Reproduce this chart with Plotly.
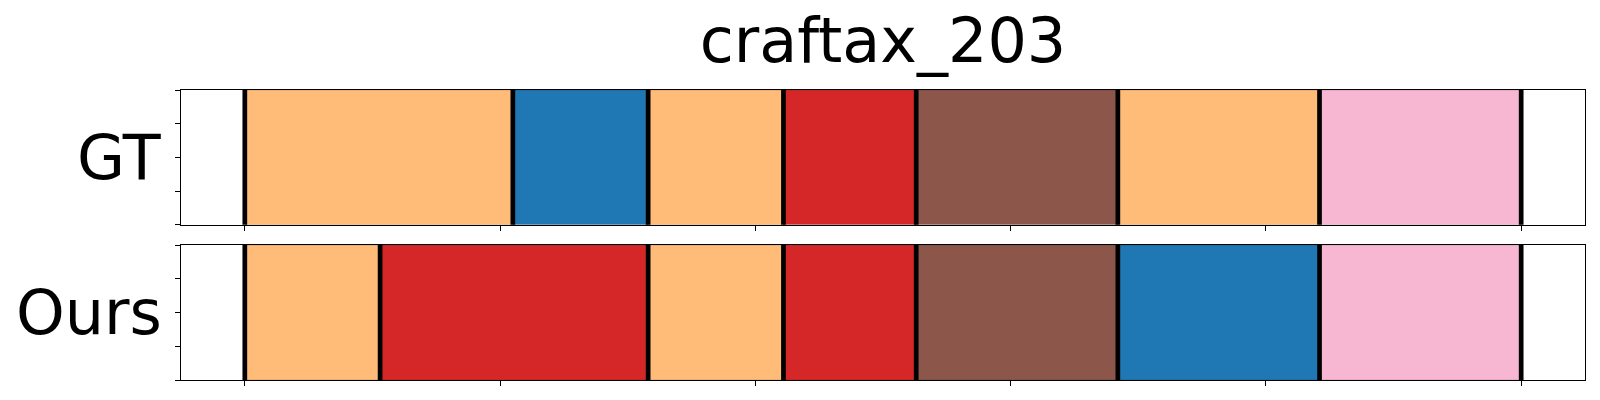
import plotly.graph_objects as go
from plotly.subplots import make_subplots

title = "craftax_203"
rows = ["GT", "Ours"]

gt_starts = [0, 105, 158, 211, 263, 342, 421]
gt_ends = [105, 158, 211, 263, 342, 421, 500]
gt_labels = ["orange", "blue", "orange", "red", "brown", "orange", "pink"]

ours_starts = [0, 53, 158, 211, 263, 342, 421]
ours_ends = [53, 158, 211, 263, 342, 421, 500]
ours_labels = ["orange", "red", "orange", "red", "brown", "blue", "pink"]

x_ticks = [0, 100, 200, 300, 400, 500]
y_ticks = [-0.5, -0.25, 0, 0.25, 0.5]

palette = {
    "orange": "#ffbb78",
    "blue": "#1f77b4",
    "red": "#d62728",
    "brown": "#8c564b",
    "pink": "#f7b6d2",
}

fig = make_subplots(rows=2, cols=1, shared_xaxes=False, vertical_spacing=0.07)

data = [(gt_starts, gt_ends, gt_labels), (ours_starts, ours_ends, ours_labels)]
for r, (starts, ends, labels) in enumerate(data, start=1):
    for s, e, lab in zip(starts, ends, labels):
        fig.add_trace(go.Bar(
            orientation="h", y=[0], x=[e - s], base=[s], width=1,
            marker=dict(color=palette[lab], line=dict(width=0.6, color="rgba(0,0,0,0.25)")),
            showlegend=False, hoverinfo="skip"), row=r, col=1)
    bounds = sorted(set(starts) | set(ends))
    xref = "x" if r == 1 else "x2"
    yref = "y domain" if r == 1 else "y2 domain"
    for b in bounds:
        fig.add_shape(type="line", xref=xref, yref=yref, x0=b, x1=b, y0=0, y1=1,
                      line=dict(color="black", width=4.7), layer="above")
    fig.add_annotation(text=rows[r - 1], xref="paper", yref=yref, x=0, y=0.5,
                       xanchor="right", yanchor="middle", xshift=-17, showarrow=False,
                       font=dict(family="DejaVu Sans", size=62, color="black"))

axis_common = dict(showline=True, mirror=True, linecolor="black", linewidth=1,
                   ticks="outside", ticklen=5, tickwidth=1, tickcolor="black",
                   showticklabels=False, showgrid=False, zeroline=False)
for r in (1, 2):
    fig.update_xaxes(range=[-25, 525], tickvals=x_ticks, row=r, col=1, **axis_common)
    fig.update_yaxes(range=[-0.5, 0.5], tickvals=y_ticks, row=r, col=1, **axis_common)

fig.update_layout(
    width=1600, height=400,
    margin=dict(l=173, r=23, t=82, b=28),
    paper_bgcolor="white", plot_bgcolor="white",
    barmode="overlay",
    title=dict(text=title, x=0.5, xref="paper", y=0.92, yanchor="middle", yref="container",
               font=dict(family="DejaVu Sans", size=62, color="black")),
)
fig.layout.yaxis.domain = [0.5355, 1]
fig.layout.yaxis2.domain = [0, 0.4655]

fig.write_html("out.html")
